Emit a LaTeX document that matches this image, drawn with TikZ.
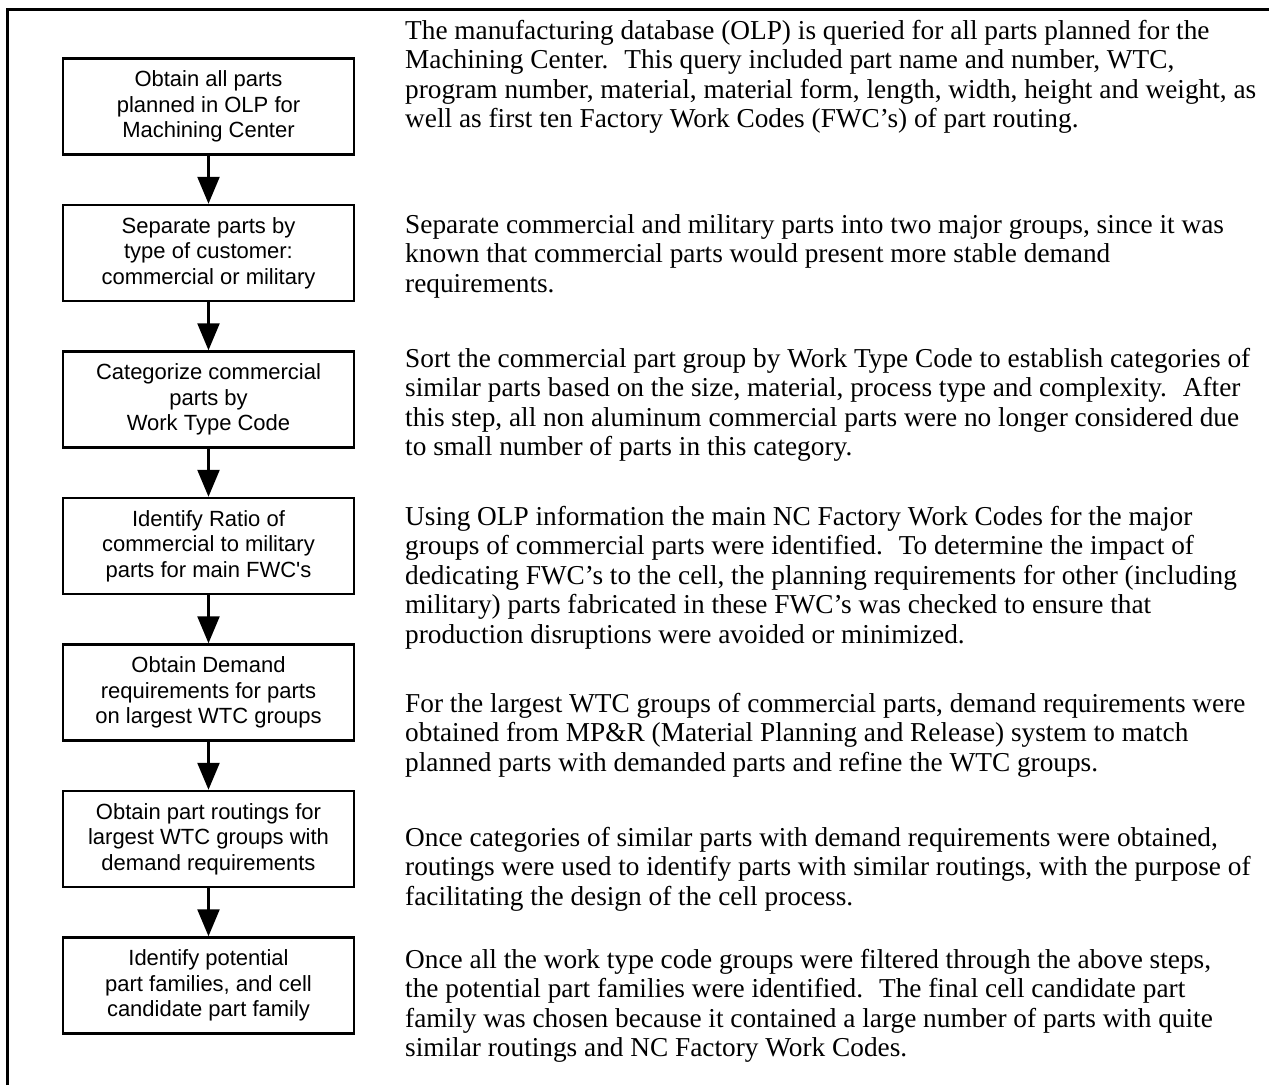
\documentclass[tikz,border=0pt]{standalone}
\usepackage{fontspec}
\setmainfont{Liberation Serif}
\setsansfont{Liberation Sans}
\usetikzlibrary{positioning,arrows.meta}

\tikzset{
  stepbox/.style={draw, line width=2.5pt, minimum width=291pt, minimum height=96pt,
    align=center, inner sep=0pt, font=\sffamily\fontsize{22}{25.5}\selectfont},
  flowarrow/.style={line width=2.5pt, -{Triangle[width=22pt,length=27pt]}},
  % anchored at the baseline of the last line
  note/.style={anchor=base west, align=left, inner sep=0pt,
    font=\fontsize{27.3}{29.5}\selectfont},
}

\begin{document}
\begin{tikzpicture}[x=1pt,y=-1pt,node distance=48pt]
    \useasboundingbox (0,0) rectangle (1269,1085);
    % frame
    \draw[line width=3pt] (7,1085) -- (7,9) -- (1269,9);

    % flow chart
    \node[stepbox] (obtain) at (208.5,106.5) {Obtain all parts\\planned in OLP for\\Machining Center};
    \node[stepbox, below=of obtain] (separate) {Separate parts by\\type of customer:\\commercial or military};
    \node[stepbox, below=of separate] (categorize) {Categorize commercial\\parts by\\Work Type Code};
    \node[stepbox, below=of categorize] (ratio) {Identify Ratio of\\commercial to military\\parts for main FWC\textquotesingle s};
    \node[stepbox, below=of ratio] (demand) {Obtain Demand\\requirements for parts\\on largest WTC groups};
    \node[stepbox, below=of demand] (routings) {Obtain part routings for\\largest WTC groups with\\demand requirements};
    \node[stepbox, below=of routings] (families) {Identify potential\\part families, and cell\\candidate part family};

    \foreach \a/\b in {obtain/separate, separate/categorize, categorize/ratio,
                       ratio/demand, demand/routings, routings/families}
        \draw[flowarrow] (\a) -- (\b);

    % explanations
    \node[note] (noteobtain) at (405,127.5) {The manufacturing database (OLP) is queried for all parts planned for the\\
        Machining Center.~ This query included part name and number, WTC,\\
        program number, material, material form, length, width, height and weight, as\\
        well as first ten Factory Work Codes (FWC’s) of part routing.};
    \node[note] (noteseparate) at (405,292) {Separate commercial and military parts into two major groups, since it was\\
        known that commercial parts would present more stable demand\\
        requirements.};
    \node[note] (notecategorize) at (405,455.5) {Sort the commercial part group by Work Type Code to establish categories of\\
        similar parts based on the size, material, process type and complexity.~ After\\
        this step, all non aluminum commercial parts were no longer considered due\\
        to small number of parts in this category.};
    \node[note] (noteratio) at (405,643) {Using OLP information the main NC Factory Work Codes for the major\\
        groups of commercial parts were identified.~ To determine the impact of\\
        dedicating FWC’s to the cell, the planning requirements for other (including\\
        military) parts fabricated in these FWC’s was checked to ensure that\\
        production disruptions were avoided or minimized.};
    \node[note] (notedemand) at (405,771) {For the largest WTC groups of commercial parts, demand requirements were\\
        obtained from MP\&R (Material Planning and Release) system to match\\
        planned parts with demanded parts and refine the WTC groups.};
    \node[note] (noteroutings) at (405,905) {Once categories of similar parts with demand requirements were obtained,\\
        routings were used to identify parts with similar routings, with the purpose of\\
        facilitating the design of the cell process.};
    \node[note] (notefamilies) at (405,1056.5) {Once all the work type code groups were filtered through the above steps,\\
        the potential part families were identified.~ The final cell candidate part\\
        family was chosen because it contained a large number of parts with quite\\
        similar routings and NC Factory Work Codes.};
\end{tikzpicture}
\end{document}
